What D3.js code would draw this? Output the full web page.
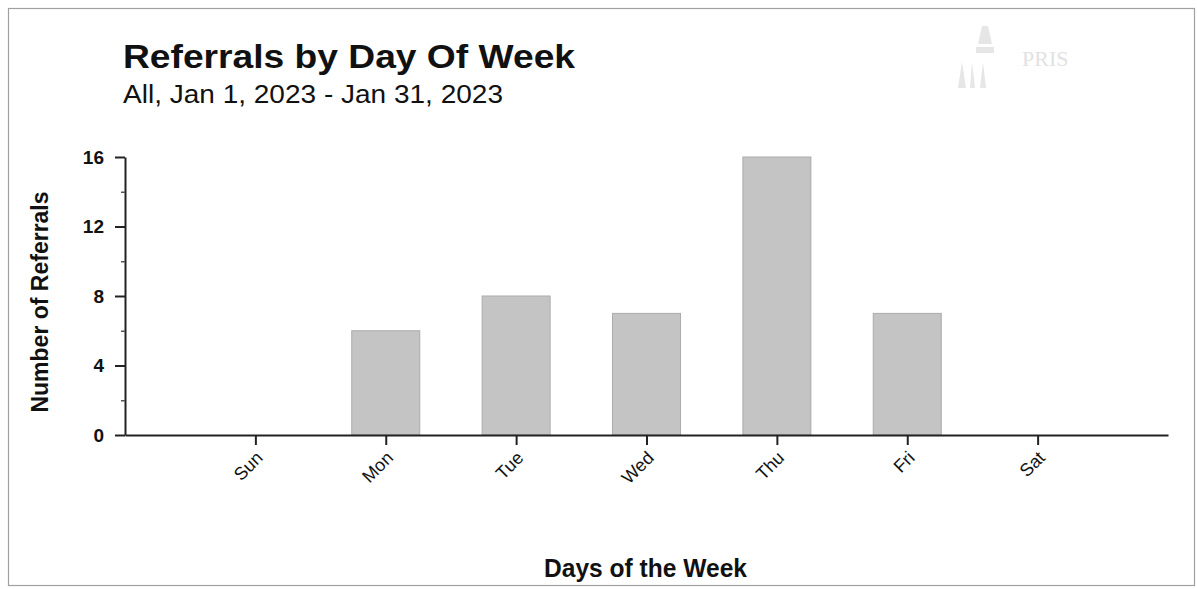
<!DOCTYPE html>
<html><head><meta charset="utf-8">
<script src="https://cdn.jsdelivr.net/npm/d3@7"></script>
<style>body{margin:0;background:#fff;}svg{display:block;}</style>
</head><body>
<svg id="c" width="1197" height="589"></svg>
<script>
const days = ["Sun","Mon","Tue","Wed","Thu","Fri","Sat"];
const referrals = [0,6,8,7,16,7,0];
const yMajorTicks = [0,4,8,12,16];
const yMinorTicks = [2,6,10,14];
const titleText = "Referrals by Day Of Week";
const subtitleText = "All, Jan 1, 2023 - Jan 31, 2023";
const xTitle = "Days of the Week";
const yTitle = "Number of Referrals";

const svg = d3.select("#c");
const font = "Liberation Sans, Arial, sans-serif";

// frame
svg.append("rect").attr("x",8.5).attr("y",8.5).attr("width",1186).attr("height",577)
  .attr("fill","none").attr("stroke","#a0a0a0").attr("stroke-width",1.2);

// watermark logo (very faint)
const logo = svg.append("g").attr("fill","#e6e6e6");
logo.append("path").attr("d","M982,26 L988,26 L992,44 L978,44 Z");
logo.append("rect").attr("x",976).attr("y",47).attr("width",18).attr("height",6);
logo.append("path").attr("d","M958,88 L962,62 L966,88 Z M970,88 L972,62 L975,88 Z M980,88 L983,62 L986,88 Z");
logo.append("text").attr("x",1022).attr("y",66).attr("font-family","Liberation Serif, serif")
  .attr("font-size",22).attr("fill","#e2e2e2").text("PRIS");

// title
svg.append("text").attr("x",123).attr("y",68).attr("font-family",font).attr("font-weight","bold")
  .attr("font-size",33).attr("fill","#111")
  .attr("textLength",452).attr("lengthAdjust","spacingAndGlyphs").text(titleText);
svg.append("text").attr("x",123).attr("y",103).attr("font-family",font)
  .attr("font-size",26).attr("fill","#111")
  .attr("textLength",380).attr("lengthAdjust","spacingAndGlyphs").text(subtitleText);

const x0 = 125, x1 = 1168, yBase = 435, yTop = 157;
const x = d3.scalePoint().domain(days).range([x0,x1]).padding(1);
const y = d3.scaleLinear().domain([0,16]).range([yBase,yTop]);
const barW = 68;

// bars
svg.append("g").selectAll("rect").data(days.map((d,i)=>({d,v:referrals[i]})).filter(o=>o.v>0))
  .join("rect")
  .attr("x",o=>x(o.d)-barW/2).attr("y",o=>y(o.v))
  .attr("width",barW).attr("height",o=>y(0)-y(o.v))
  .attr("fill","#c4c4c4").attr("stroke","#ababab").attr("stroke-width",1);

// y axis
const yAxis = svg.append("g").attr("transform",`translate(${x0},0)`)
  .call(d3.axisLeft(y).tickValues(yMajorTicks).tickSize(10).tickSizeOuter(0).tickFormat(d3.format("d")));
yAxis.select(".domain").attr("stroke","#222").attr("stroke-width",2);
yAxis.selectAll(".tick line").attr("stroke","#222").attr("stroke-width",2);
yAxis.selectAll(".tick text").attr("font-family",font).attr("font-weight","bold")
  .attr("font-size",19).attr("fill","#111").attr("x",-21);
svg.append("g").attr("transform",`translate(${x0},0)`)
  .call(d3.axisLeft(y).tickValues(yMinorTicks).tickSize(4).tickSizeOuter(0).tickFormat(""))
  .call(g=>g.select(".domain").remove())
  .selectAll(".tick line").attr("stroke","#555").attr("stroke-width",1.5);

// x axis
const xAxis = svg.append("g").attr("transform",`translate(0,${yBase})`)
  .call(d3.axisBottom(x).tickSize(10).tickSizeOuter(0));
xAxis.select(".domain").attr("stroke","#222").attr("stroke-width",2);
xAxis.selectAll(".tick line").attr("stroke","#222").attr("stroke-width",2);
xAxis.selectAll(".tick text").attr("font-family",font).attr("font-size",18).attr("fill","#111")
  .attr("text-anchor","end").attr("dy",0).attr("y",0)
  .attr("transform","translate(8,24) rotate(-45)");

// axis titles
svg.append("text").attr("x",544).attr("y",577)
  .attr("font-family",font).attr("font-weight","bold").attr("font-size",25)
  .attr("textLength",203).attr("lengthAdjust","spacingAndGlyphs")
  .attr("fill","#111").text(xTitle);
svg.append("text").attr("transform","translate(48,302) rotate(-90)").attr("text-anchor","middle")
  .attr("font-family",font).attr("font-weight","bold").attr("font-size",23)
  .attr("fill","#111").text(yTitle);
</script>
</body></html>
